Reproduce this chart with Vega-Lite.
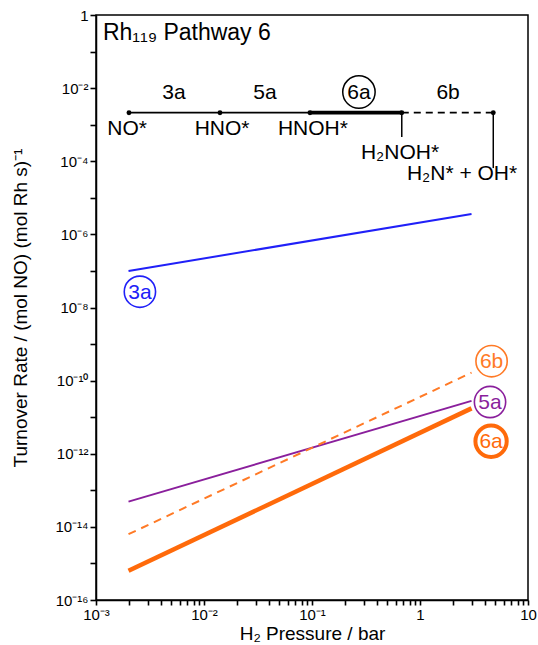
{
  "$schema": "https://vega.github.io/schema/vega-lite/v6.json",
  "width": 432,
  "height": 585,
  "autosize": "none",
  "padding": {"left": 96, "top": 15, "right": 10, "bottom": 45},
  "background": "white",
  "config": {
    "font": "Liberation Sans",
    "view": {"stroke": "black", "strokeWidth": 1.5}
  },
  "datasets": {
    "lines": [
      {"series": "3a", "x": 0.002, "y": 1.0e-7},
      {"series": "3a", "x": 3, "y": 3.6e-6},
      {"series": "5a", "x": 0.002, "y": 4.9e-14},
      {"series": "5a", "x": 3, "y": 2.8e-11},
      {"series": "6b", "x": 0.002, "y": 6.3e-15},
      {"series": "6b", "x": 3, "y": 1.65e-10},
      {"series": "6a", "x": 0.002, "y": 6.3e-16},
      {"series": "6a", "x": 3, "y": 1.74e-11}
    ],
    "badges": [
      {"label": "3a", "x": 0.00255, "y": 2.7e-8},
      {"label": "6b", "x": 4.6, "y": 3.4e-10},
      {"label": "5a", "x": 4.45, "y": 2.6e-11},
      {"label": "6a", "x": 4.55, "y": 2.2e-12}
    ],
    "segments": [
      {"kind": "thin", "x": 0.00202, "x2": 0.01406, "y": 0.00213},
      {"kind": "thin", "x": 0.01406, "x2": 0.0957, "y": 0.00213},
      {"kind": "thick", "x": 0.0957, "x2": 0.678, "y": 0.00213},
      {"kind": "dashed", "x": 0.678, "x2": 4.77, "y": 0.00213}
    ],
    "drops": [
      {"x": 0.678, "y": 0.00213, "y2": 0.00046},
      {"x": 4.77, "y": 0.00213, "y2": 0.000065}
    ],
    "dots": [
      {"x": 0.00202, "y": 0.00213},
      {"x": 0.01406, "y": 0.00213},
      {"x": 0.0957, "y": 0.00213},
      {"x": 0.678, "y": 0.00213},
      {"x": 4.77, "y": 0.00213}
    ],
    "labels": [
      {"text": "3a", "x": 0.00527, "y": 0.0078},
      {"text": "5a", "x": 0.0367, "y": 0.0078},
      {"text": "6a", "x": 0.272, "y": 0.0078},
      {"text": "6b", "x": 1.82, "y": 0.0078},
      {"text": "NO*", "x": 0.00194, "y": 0.00081},
      {"text": "HNO*", "x": 0.0147, "y": 0.00081},
      {"text": "HNOH*", "x": 0.102, "y": 0.00081},
      {"text": "H₂NOH*", "x": 0.653, "y": 0.000179},
      {"text": "H₂N* + OH*", "x": 2.45, "y": 0.000048}
    ],
    "ring": [{"x": 0.272, "y": 0.0078}],
    "title": [{"text": "Rh₁₁₉ Pathway 6", "x": 0.00116, "y": 0.322}]
  },
  "layer": [
    {
      "data": {"name": "lines"},
      "transform": [{"filter": "datum.series == '3a' || datum.series == '5a'"}],
      "mark": {"type": "line", "clip": true, "strokeWidth": 2},
      "encoding": {
        "x": {"field": "x", "type": "quantitative", "scale": {"type": "log", "domain": [0.001, 10], "nice": false},
          "axis": {"title": "H₂ Pressure / bar", "values": [0.001,0.002,0.003,0.004,0.005,0.006,0.007,0.008,0.009,0.01,0.02,0.03,0.04,0.05,0.06,0.07,0.08,0.09,0.1,0.2,0.3,0.4,0.5,0.6,0.7,0.8,0.9,1,2,3,4,5,6,7,8,9,10],
            "labelExpr": "abs(log(datum.value)/LN10 - round(log(datum.value)/LN10)) < 0.001 ? ['10⁻³','10⁻²','10⁻¹','1','10'][round(log(datum.value)/LN10)+3] : ''",
            "grid": false, "zindex": 1, "domainColor": "black", "domainWidth": 1.5, "ticks": true, "tickSize": 5, "tickWidth": 1.6, "tickColor": "#000000", "tickOpacity": 1,
            "labelColor": "black", "labelFont": "Liberation Sans", "labelFontSize": 15, "labelFlush": false, "labelOverlap": false, "labelPadding": 2,
            "titleColor": "black", "titleFont": "Liberation Sans", "titleFontSize": 19, "titleFontWeight": "normal", "titlePadding": 2}},
        "y": {"field": "y", "type": "quantitative", "scale": {"type": "log", "domain": [1e-16, 1], "nice": false},
          "axis": {"title": "Turnover Rate / (mol NO) (mol Rh s)⁻¹", "values": [1,1e-1,1e-2,1e-3,1e-4,1e-5,1e-6,1e-7,1e-8,1e-9,1e-10,1e-11,1e-12,1e-13,1e-14,1e-15,1e-16],
            "labelExpr": "(round(-log(datum.value)/LN10) % 2 == 0) ? ['1','10⁻¹','10⁻²','10⁻³','10⁻⁴','10⁻⁵','10⁻⁶','10⁻⁷','10⁻⁸','10⁻⁹','10⁻¹⁰','10⁻¹¹','10⁻¹²','10⁻¹³','10⁻¹⁴','10⁻¹⁵','10⁻¹⁶'][round(-log(datum.value)/LN10)] : ''",
            "grid": false, "zindex": 1, "domainColor": "black", "domainWidth": 1.5, "ticks": true, "tickSize": 6, "tickWidth": 1.6, "tickColor": "#000000", "tickOpacity": 1,
            "labelColor": "black", "labelFont": "Liberation Sans", "labelFontSize": 15, "labelFlush": false, "labelOverlap": false, "labelPadding": 2,
            "titleColor": "black", "titleFont": "Liberation Sans", "titleFontSize": 19, "titleFontWeight": "normal", "titlePadding": 24}},
        "detail": {"field": "series"},
        "color": {"field": "series", "type": "nominal", "scale": {"domain": ["3a", "5a", "6b", "6a"], "range": ["#2020f8", "#8a1f9c", "#ff7a26", "#ff6a0a"]}, "legend": null}
      }
    },
    {
      "data": {"name": "lines"},
      "transform": [{"filter": "datum.series == '6b'"}],
      "mark": {"type": "line", "clip": true, "strokeWidth": 2, "strokeDash": [8, 6]},
      "encoding": {
        "x": {"field": "x", "type": "quantitative"},
        "y": {"field": "y", "type": "quantitative"},
        "color": {"field": "series", "type": "nominal", "scale": {"domain": ["3a", "5a", "6b", "6a"], "range": ["#2020f8", "#8a1f9c", "#ff7a26", "#ff6a0a"]}, "legend": null}
      }
    },
    {
      "data": {"name": "lines"},
      "transform": [{"filter": "datum.series == '6a'"}],
      "mark": {"type": "line", "clip": true, "strokeWidth": 4.5},
      "encoding": {
        "x": {"field": "x", "type": "quantitative"},
        "y": {"field": "y", "type": "quantitative"},
        "color": {"field": "series", "type": "nominal", "scale": {"domain": ["3a", "5a", "6b", "6a"], "range": ["#2020f8", "#8a1f9c", "#ff7a26", "#ff6a0a"]}, "legend": null}
      }
    },
    {
      "data": {"name": "badges"},
      "transform": [{"filter": "datum.label != '6a'"}],
      "mark": {"type": "point", "shape": "circle", "filled": false, "size": 980, "strokeWidth": 1.6, "opacity": 1},
      "encoding": {
        "x": {"field": "x", "type": "quantitative"},
        "y": {"field": "y", "type": "quantitative"},
        "color": {"field": "label", "type": "nominal", "scale": {"domain": ["3a", "5a", "6b", "6a"], "range": ["#2020f8", "#8a1f9c", "#ff7a26", "#ff6a0a"]}, "legend": null}
      }
    },
    {
      "data": {"name": "badges"},
      "transform": [{"filter": "datum.label == '6a'"}],
      "mark": {"type": "point", "shape": "circle", "filled": false, "size": 980, "strokeWidth": 4, "opacity": 1},
      "encoding": {
        "x": {"field": "x", "type": "quantitative"},
        "y": {"field": "y", "type": "quantitative"},
        "color": {"field": "label", "type": "nominal", "scale": {"domain": ["3a", "5a", "6b", "6a"], "range": ["#2020f8", "#8a1f9c", "#ff7a26", "#ff6a0a"]}, "legend": null}
      }
    },
    {
      "data": {"name": "badges"},
      "mark": {"type": "text", "fontSize": 21, "align": "center", "baseline": "middle", "dy": 1},
      "encoding": {
        "x": {"field": "x", "type": "quantitative"},
        "y": {"field": "y", "type": "quantitative"},
        "text": {"field": "label"},
        "color": {"field": "label", "type": "nominal", "scale": {"domain": ["3a", "5a", "6b", "6a"], "range": ["#2020f8", "#8a1f9c", "#ff7a26", "#ff6a0a"]}, "legend": null}
      }
    },
    {
      "data": {"name": "segments"},
      "transform": [{"filter": "datum.kind == 'thin'"}],
      "mark": {"type": "rule", "color": "black", "strokeWidth": 1.8},
      "encoding": {
        "x": {"field": "x", "type": "quantitative"},
        "x2": {"field": "x2"},
        "y": {"field": "y", "type": "quantitative"}
      }
    },
    {
      "data": {"name": "segments"},
      "transform": [{"filter": "datum.kind == 'thick'"}],
      "mark": {"type": "rule", "color": "black", "strokeWidth": 3.8},
      "encoding": {
        "x": {"field": "x", "type": "quantitative"},
        "x2": {"field": "x2"},
        "y": {"field": "y", "type": "quantitative"}
      }
    },
    {
      "data": {"name": "segments"},
      "transform": [{"filter": "datum.kind == 'dashed'"}],
      "mark": {"type": "rule", "color": "black", "strokeWidth": 1.8, "strokeDash": [7, 5]},
      "encoding": {
        "x": {"field": "x", "type": "quantitative"},
        "x2": {"field": "x2"},
        "y": {"field": "y", "type": "quantitative"}
      }
    },
    {
      "data": {"name": "drops"},
      "mark": {"type": "rule", "color": "black", "strokeWidth": 1.5},
      "encoding": {
        "x": {"field": "x", "type": "quantitative"},
        "y": {"field": "y", "type": "quantitative"},
        "y2": {"field": "y2"}
      }
    },
    {
      "data": {"name": "dots"},
      "mark": {"type": "point", "shape": "circle", "filled": true, "color": "black", "size": 24, "opacity": 1},
      "encoding": {
        "x": {"field": "x", "type": "quantitative"},
        "y": {"field": "y", "type": "quantitative"}
      }
    },
    {
      "data": {"name": "ring"},
      "mark": {"type": "point", "shape": "circle", "filled": false, "color": "black", "size": 1050, "strokeWidth": 1.5, "opacity": 1},
      "encoding": {
        "x": {"field": "x", "type": "quantitative"},
        "y": {"field": "y", "type": "quantitative"}
      }
    },
    {
      "data": {"name": "labels"},
      "mark": {"type": "text", "fontSize": 21, "align": "center", "baseline": "middle", "color": "black", "dy": 1},
      "encoding": {
        "x": {"field": "x", "type": "quantitative"},
        "y": {"field": "y", "type": "quantitative"},
        "text": {"field": "text"}
      }
    },
    {
      "data": {"name": "title"},
      "mark": {"type": "text", "fontSize": 23, "align": "left", "baseline": "middle", "color": "black"},
      "encoding": {
        "x": {"field": "x", "type": "quantitative"},
        "y": {"field": "y", "type": "quantitative"},
        "text": {"field": "text"}
      }
    }
  ]
}
